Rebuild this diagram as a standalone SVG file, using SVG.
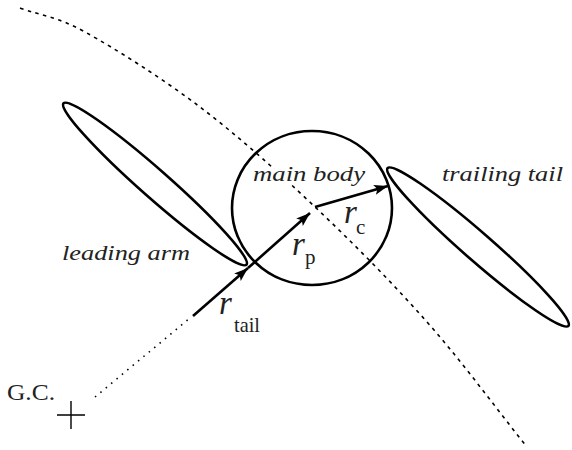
<svg xmlns="http://www.w3.org/2000/svg" width="572" height="450" viewBox="0 0 572 450">
<style>
.shape{fill:none;stroke:#000;stroke-width:2.6}
.arc{fill:none;stroke:#000;stroke-width:1.6;stroke-dasharray:3.5 4.5}
.dot{fill:none;stroke:#000;stroke-width:1.6;stroke-dasharray:1.5 5.5}
.vec{fill:none;stroke:#000;stroke-width:2.6}
.lbl{font-family:"Liberation Serif","Times New Roman",serif;font-style:italic;fill:#222;font-size:22px}
.sym{font-family:"Liberation Serif","Times New Roman",serif;font-style:italic;fill:#222;font-size:33px}
.sub{font-family:"Liberation Serif","Times New Roman",serif;fill:#222;font-size:21px}
.gc{font-family:"Liberation Serif","Times New Roman",serif;fill:#222;font-size:24px}
.halo{paint-order:stroke;stroke:#fff;stroke-width:7px;stroke-linejoin:round}
</style>
<defs>
<marker id="ah" markerUnits="userSpaceOnUse" markerWidth="16" markerHeight="12" refX="14" refY="5" orient="auto">
<path d="M0,0 L14,5 L0,10 L3,5 Z" fill="#000"/>
</marker>
</defs>
<g id="orbit">
<path class="arc" d="M20,8 C41.7,16 55,15.5 85,32 C115,48.5 161.8,78 200,107 C238.2,136 276.2,170.2 314,206 C351.8,241.8 391.5,281.8 427,322 C462.5,362.2 493.7,405.3 527,447"/>
</g>
<g id="main-body">
<ellipse class="shape" cx="312" cy="208" rx="80" ry="77"/>
<text class="lbl halo" x="253" y="181" textLength="112" lengthAdjust="spacingAndGlyphs">main body</text>
</g>
<g id="leading-arm">
<ellipse class="shape" cx="155" cy="184" rx="122" ry="14" transform="rotate(41.4 155 184)"/>
<text class="lbl" x="62" y="260" textLength="128" lengthAdjust="spacingAndGlyphs">leading arm</text>
</g>
<g id="trailing-tail">
<ellipse class="shape" cx="478" cy="247" rx="120" ry="14" transform="rotate(41.1 478 247)"/>
<text class="lbl" x="442" y="181" textLength="121" lengthAdjust="spacingAndGlyphs">trailing tail</text>
</g>
<g id="gc">
<path d="M57,415 H85 M71,401 V429" stroke="#000" stroke-width="1.4" fill="none"/>
<text class="gc" x="7" y="400" textLength="48" lengthAdjust="spacingAndGlyphs">G.C.</text>
</g>
<g id="connectors">
<path class="dot" d="M95,397 L190,318"/>
<path class="vec" d="M193,316 L248,268" marker-end="url(#ah)"/>
<path class="vec" d="M248,268 L310,213" marker-end="url(#ah)"/>
<path class="vec" d="M315,207 L388,186" marker-end="url(#ah)"/>
</g>
<g id="labels">
<text class="sym" x="219" y="314">r</text>
<text class="sub" x="234" y="332" textLength="26" lengthAdjust="spacingAndGlyphs">tail</text>
<text class="sym" x="292" y="255">r</text>
<text class="sub" x="305" y="264">p</text>
<text class="sym" x="344" y="223">r</text>
<text class="sub" x="356" y="234">c</text>
</g>
</svg>
